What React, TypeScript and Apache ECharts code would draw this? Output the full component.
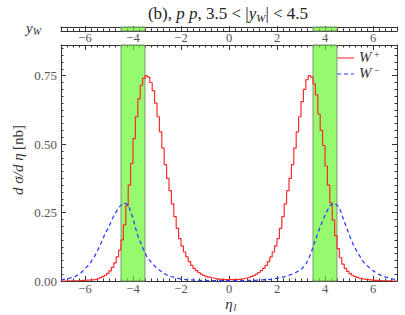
import React, { useEffect, useRef } from "react";
import * as echarts from "echarts";

// W+ histogram, bins of width 0.1 from eta = -7 to 7
const binStart = -7;
const binWidth = 0.1;
const wPlusNeg = [
  0.000, 0.000, 0.000, 0.001, 0.001, 0.001, 0.001, 0.001, 0.002, 0.002,
  0.003, 0.003, 0.004, 0.005, 0.007, 0.009, 0.012, 0.016, 0.021, 0.028,
  0.037, 0.050, 0.066, 0.088, 0.113, 0.150, 0.205, 0.275, 0.350, 0.430,
  0.520, 0.600, 0.665, 0.715, 0.740, 0.750, 0.745, 0.725, 0.695, 0.650,
  0.600, 0.545, 0.485, 0.425, 0.375, 0.330, 0.282, 0.235, 0.192, 0.155,
  0.128, 0.106, 0.088, 0.071, 0.057, 0.046, 0.038, 0.031, 0.025, 0.020,
  0.017, 0.014, 0.012, 0.010, 0.008, 0.007, 0.006, 0.005, 0.005, 0.005,
];
const wPlusPos = [
  0.005, 0.005, 0.005, 0.006, 0.007, 0.008, 0.010, 0.012, 0.014, 0.017,
  0.020, 0.025, 0.031, 0.038, 0.046, 0.057, 0.071, 0.088, 0.106, 0.128,
  0.155, 0.192, 0.235, 0.282, 0.330, 0.375, 0.425, 0.485, 0.545, 0.600,
  0.655, 0.700, 0.735, 0.750, 0.745, 0.720, 0.680, 0.610, 0.550, 0.495,
  0.420, 0.350, 0.285, 0.222, 0.165, 0.118, 0.085, 0.062, 0.046, 0.035,
  0.027, 0.021, 0.016, 0.013, 0.010, 0.008, 0.006, 0.005, 0.004, 0.003,
  0.002, 0.002, 0.002, 0.001, 0.001, 0.001, 0.001, 0.000, 0.000, 0.000,
];
// W- curve, sampled every 0.2 from eta = -7 to 7
const wMinusStart = -7;
const wMinusStep = 0.2;
const wMinus = [
  0.004, 0.007, 0.011, 0.017, 0.027, 0.045, 0.063, 0.090, 0.125, 0.165,
  0.200, 0.238, 0.268, 0.285, 0.280, 0.228, 0.165, 0.122, 0.085, 0.065,
  0.046, 0.034, 0.022, 0.016, 0.011, 0.007, 0.005, 0.004, 0.003, 0.002,
  0.002, 0.001, 0.001, 0.001, 0.001, 0.001, 0.001, 0.001, 0.001, 0.002,
  0.002, 0.003, 0.004, 0.005, 0.007, 0.010, 0.013, 0.018, 0.024, 0.032,
  0.042, 0.060, 0.098, 0.150, 0.198, 0.240, 0.275, 0.285, 0.268, 0.218,
  0.170, 0.128, 0.098, 0.070, 0.052, 0.038, 0.026, 0.018, 0.012, 0.008,
  0.005,
];
const yWBands = [[-4.5, -3.5], [3.5, 4.5]];
const xMajorTicks = [-6, -4, -2, 0, 2, 4, 6];
const yMajorTicks = [0, 0.25, 0.5, 0.75];
const xMin = -7;
const xMax = 7;
const yMax = 0.862;

const SERIF = "'Liberation Serif', 'DejaVu Serif', serif";
const AX = "#333";
const LBL = "#555";

const fmtX = (v: number) => (v < 0 ? "\u2212" + Math.abs(v) : String(v));

export default function App() {
  const ref = useRef<HTMLDivElement>(null);
  useEffect(() => {
    if (!ref.current) return;
    const chart = echarts.init(ref.current, undefined, { renderer: "svg" });

    const allPlus = [...wPlusNeg, ...wPlusPos];
    const redData: number[][] = allPlus.map((v, i) => [
      +(binStart + i * binWidth).toFixed(2),
      v,
    ]);
    redData.push([+(binStart + allPlus.length * binWidth).toFixed(2), allPlus[allPlus.length - 1]]);
    redData.unshift([binStart, 0]);
    const blueData = wMinus.map((v, i) => [+(wMinusStart + i * wMinusStep).toFixed(2), v]);

    const xAx = (grid: number, pos: string, major: boolean, labels: boolean, margin = 1) => ({
      type: "value",
      gridIndex: grid,
      position: pos,
      min: xMin,
      max: xMax,
      interval: major ? 1 : 0.25,
      axisLine: { show: major, onZero: false, lineStyle: { color: AX, width: 1 } },
      axisTick: major
        ? { show: true, inside: true, length: 5, customValues: xMajorTicks, lineStyle: { color: AX } }
        : { show: true, inside: true, length: 2.5, lineStyle: { color: AX } },
      axisLabel: labels
        ? {
            show: true,
            customValues: xMajorTicks,
            formatter: fmtX,
            fontFamily: SERIF,
            fontSize: 12.5,
            lineHeight: 12,
            color: LBL,
            margin,
          }
        : { show: false },
      splitLine: { show: false },
    });
    const yAx = (pos: string, major: boolean, labels: boolean) => ({
      type: "value",
      gridIndex: 0,
      position: pos,
      min: 0,
      max: yMax,
      interval: major ? 0.25 : 0.025,
      axisLine: { show: major, onZero: false, lineStyle: { color: AX, width: 1 } },
      axisTick: major
        ? { show: true, inside: true, length: 5, customValues: yMajorTicks, lineStyle: { color: AX } }
        : { show: true, inside: true, length: 2.5, lineStyle: { color: AX } },
      axisLabel: labels
        ? {
            show: true,
            customValues: yMajorTicks,
            formatter: (v: number) => v.toFixed(2),
            fontFamily: SERIF,
            fontSize: 13,
            color: LBL,
            margin: 4,
          }
        : { show: false },
      splitLine: { show: false },
    });

    const bandAreas = yWBands.map((b) => [{ xAxis: b[0] }, { xAxis: b[1] }]);
    const bandStyle = {
      color: "rgba(94,248,32,0.65)",
      borderColor: "rgba(120,140,110,0.9)",
      borderWidth: 1,
    };

    chart.setOption({
      animation: false,
      grid: [
        { left: 61, right: 8, top: 45, height: 236 },
        { left: 61, right: 8, top: 27, height: 4 },
      ],
      xAxis: [
        xAx(0, "bottom", true, true, 2),
        xAx(0, "bottom", false, false),
        xAx(0, "top", true, false),
        xAx(0, "top", false, false),
        xAx(1, "bottom", true, true, 1),
        xAx(1, "bottom", false, false),
        {
          type: "value",
          gridIndex: 1,
          position: "top",
          min: xMin,
          max: xMax,
          axisLine: { show: true, onZero: false, lineStyle: { color: AX } },
          axisTick: { show: false },
          axisLabel: { show: false },
          splitLine: { show: false },
        },
      ],
      yAxis: [
        yAx("left", true, true),
        yAx("left", false, false),
        yAx("right", true, false),
        yAx("right", false, false),
        {
          type: "value",
          gridIndex: 1,
          position: "left",
          min: 0,
          max: 1,
          axisLine: { show: true, onZero: false, lineStyle: { color: AX } },
          axisTick: { show: false },
          axisLabel: { show: false },
          splitLine: { show: false },
        },
        {
          type: "value",
          gridIndex: 1,
          position: "right",
          min: 0,
          max: 1,
          axisLine: { show: true, onZero: false, lineStyle: { color: AX } },
          axisTick: { show: false },
          axisLabel: { show: false },
          splitLine: { show: false },
        },
      ],
      series: [
        {
          name: "W+",
          type: "line",
          xAxisIndex: 0,
          yAxisIndex: 0,
          data: redData,
          step: "end",
          showSymbol: false,
          symbol: "none",
          z: 2,
          lineStyle: { color: "#ff2a2a", width: 1.2 },
        },
        {
          name: "bands",
          type: "line",
          xAxisIndex: 0,
          yAxisIndex: 0,
          data: [],
          z: 3,
          markArea: { silent: true, itemStyle: bandStyle, data: bandAreas },
        },
        {
          name: "W-",
          type: "line",
          xAxisIndex: 0,
          yAxisIndex: 0,
          data: blueData,
          showSymbol: false,
          symbol: "none",
          z: 4,
          lineStyle: { color: "#3040ff", width: 1.3, type: [4, 3] },
        },
        {
          name: "bandsTop",
          type: "line",
          xAxisIndex: 4,
          yAxisIndex: 4,
          data: [],
          z: 3,
          markArea: { silent: true, itemStyle: bandStyle, data: bandAreas },
        },
      ],
      graphic: [
        {
          type: "text",
          x: 228,
          y: 13,
          style: {
            text: "{r|(b), }{i|p p}{r|, 3.5 < |}{i|y}{s|W}{r|| < 4.5}",
            align: "center",
            verticalAlign: "middle",
            rich: {
              r: { fontFamily: SERIF, fontSize: 17, fill: "#222", lineHeight: 20 },
              i: { fontFamily: SERIF, fontSize: 17, fontStyle: "italic", fill: "#222", lineHeight: 20 },
              s: { fontFamily: SERIF, fontSize: 11, fontStyle: "italic", fill: "#222", verticalAlign: "bottom", lineHeight: 20 },
            },
          },
        },
        {
          type: "text",
          x: 26,
          y: 28,
          style: {
            text: "{i|y}{s|W}",
            verticalAlign: "middle",
            rich: {
              i: { fontFamily: SERIF, fontSize: 15, fontStyle: "italic", fill: "#333", lineHeight: 16 },
              s: { fontFamily: SERIF, fontSize: 10, fontStyle: "italic", fill: "#333", verticalAlign: "bottom", lineHeight: 16 },
            },
          },
        },
        {
          type: "text",
          x: 18,
          y: 160,
          rotation: Math.PI / 2,
          style: {
            text: "{i|d \u03c3/d \u03b7} {r|[nb]}",
            align: "center",
            verticalAlign: "middle",
            rich: {
              r: { fontFamily: SERIF, fontSize: 15, fill: "#333" },
              i: { fontFamily: SERIF, fontSize: 15, fontStyle: "italic", fill: "#333" },
            },
          },
        },
        {
          type: "text",
          x: 229,
          y: 303.5,
          style: {
            text: "\u03b7",
            align: "center",
            verticalAlign: "middle",
            fontFamily: SERIF,
            fontSize: 15,
            fontStyle: "italic",
            fill: "#333",
            lineHeight: 12,
          },
        },
        {
          type: "text",
          x: 233.5,
          y: 307,
          style: {
            text: "l",
            align: "left",
            verticalAlign: "middle",
            fontFamily: SERIF,
            fontSize: 10,
            fontStyle: "italic",
            fill: "#333",
            lineHeight: 8,
          },
        },
        {
          type: "line",
          shape: { x1: 337, y1: 58, x2: 354, y2: 58 },
          style: { stroke: "#ff2a2a", lineWidth: 1.5, opacity: 0.7 },
        },
        {
          type: "line",
          shape: { x1: 337, y1: 74, x2: 354, y2: 74 },
          style: { stroke: "#3040ff", lineWidth: 1.3, lineDash: [4, 3], opacity: 0.7 },
        },
        {
          type: "text",
          x: 359,
          y: 57,
          style: {
            text: "{i|W}{s| +}",
            verticalAlign: "middle",
            rich: {
              i: { fontFamily: SERIF, fontSize: 15, fontStyle: "italic", fill: "#333", lineHeight: 16 },
              s: { fontFamily: SERIF, fontSize: 10, fill: "#333", verticalAlign: "top", lineHeight: 16 },
            },
          },
        },
        {
          type: "text",
          x: 359,
          y: 73,
          style: {
            text: "{i|W}{s| \u2212}",
            verticalAlign: "middle",
            rich: {
              i: { fontFamily: SERIF, fontSize: 15, fontStyle: "italic", fill: "#333", lineHeight: 16 },
              s: { fontFamily: SERIF, fontSize: 10, fill: "#333", verticalAlign: "top", lineHeight: 16 },
            },
          },
        },
      ],
    });
    return () => chart.dispose();
  }, []);
  return <div ref={ref} style={{ width: 405, height: 315, position: "absolute", left: 0, top: 0 }} />;
}
